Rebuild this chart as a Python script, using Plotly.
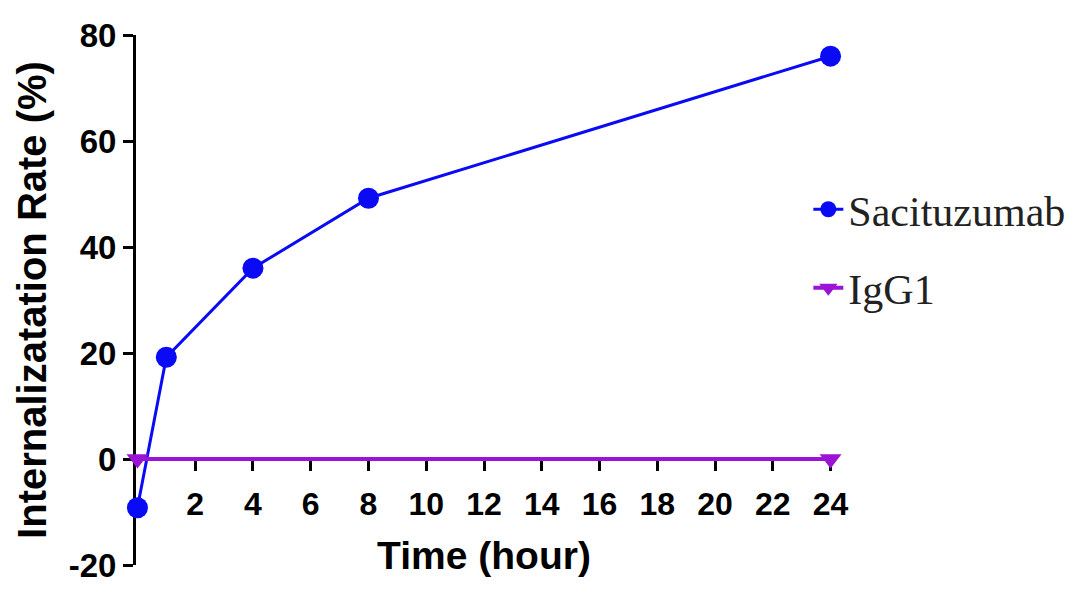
import plotly.graph_objects as go

time_sac = [0, 1, 4, 8, 24]
rate_sac = [-9.2, 19.2, 36.0, 49.2, 76.0]
time_igg = [0, 24]
rate_igg = [0.0, 0.0]
x_ticks = [2, 4, 6, 8, 10, 12, 14, 16, 18, 20, 22, 24]
y_ticks = [-20, 0, 20, 40, 60, 80]
y_tick_text = ["-20", "0", "20", "40", "60", "80"]

blue = "#0A0AF5"
purple = "#9B14D6"
sans = "Liberation Sans, Arial, sans-serif"

fig = go.Figure()
fig.add_trace(go.Scatter(
    x=time_sac, y=rate_sac, mode="lines+markers", name="Sacituzumab",
    line=dict(color=blue, width=3), marker=dict(color=blue, size=21, symbol="circle"),
    cliponaxis=False, legendgroup="a"))
fig.add_trace(go.Scatter(
    x=time_igg, y=rate_igg, mode="lines+markers", name="IgG1",
    line=dict(color=purple, width=4), marker=dict(color=purple, size=19, symbol="triangle-down"),
    cliponaxis=False, legendgroup="b"))

fig.update_layout(
    width=1080, height=597,
    margin=dict(l=136, r=248, t=35, b=32, autoexpand=False),
    paper_bgcolor="white", plot_bgcolor="white",
    font=dict(family=sans, color="black"),
    legend=dict(x=0.966, y=0.735, xanchor="left", yanchor="top",
                font=dict(family="Liberation Serif, Times New Roman, serif", size=42, color="#222"),
                tracegroupgap=21, bgcolor="rgba(0,0,0,0)"),
    xaxis=dict(range=[-0.05, 24.05], tickvals=x_ticks, anchor="free", position=0.2,
               showline=True, linecolor="black", linewidth=3, ticks="outside",
               ticklen=10, tickwidth=3, tickcolor="black", showgrid=False, zeroline=False,
               ticklabelstandoff=6,
               tickfont=dict(family=sans, size=32, color="black", weight="bold"),
               title=dict(text="<b>Time (hour)</b>", font=dict(family=sans, size=39), standoff=20),
               layer="below traces"),
    yaxis=dict(range=[-20, 80], tickvals=y_ticks, ticktext=y_tick_text,
               showline=True, linecolor="black", linewidth=3,
               ticks="outside", ticklen=10, tickwidth=3, tickcolor="black",
               showgrid=False, zeroline=False,
               tickfont=dict(family=sans, size=33, color="black", weight="bold"),
               title=dict(text="<b>Internalizatation Rate (%)</b>", font=dict(family=sans, size=40), standoff=10),
               layer="below traces"),
)

fig.write_html("out.html")
